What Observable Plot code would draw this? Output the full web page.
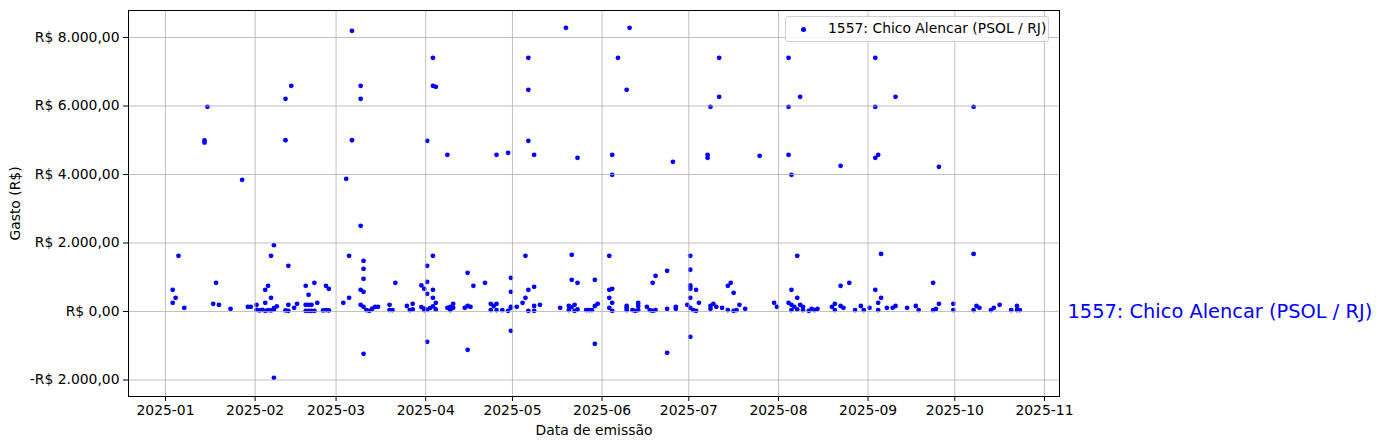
<!DOCTYPE html>
<html>
<head>
<meta charset="utf-8">
<script src="https://cdn.jsdelivr.net/npm/d3@7"></script>
<script src="https://cdn.jsdelivr.net/npm/@observablehq/plot@0.6"></script>
<style>
  html, body { margin: 0; padding: 0; background: #fff; }
  #wrap { position: relative; width: 1383px; height: 448px; font-family: "DejaVu Sans", sans-serif; }
  #legend { position: absolute; left: 785px; top: 16px; width: 264px; height: 26px; box-sizing: border-box;
    border: 1px solid #d0d0d0; border-radius: 3px; background: rgba(255,255,255,0.8);
    font-size: 13.9px; color: #000; }
  #legend .dot { position: absolute; left: 15px; top: 10px; width: 5px; height: 5px; border-radius: 50%; background: blue; }
  #legend .txt { position: absolute; left: 42px; top: 3px; white-space: nowrap; }
</style>
</head>
<body>
<div id="wrap">
  <div id="chart"></div>
  <div id="legend"><div class="dot"></div><div class="txt"></div></div>
</div>
<script>
const seriesName = "1557: Chico Alencar (PSOL / RJ)";
const xLabel = "Data de emissão";
const yLabel = "Gasto (R$)";
const yTicks = [-2000, 0, 2000, 4000, 6000, 8000];

const dates = [
"2025-01-03","2025-01-03","2025-01-04","2025-01-05","2025-01-07","2025-01-14","2025-01-14","2025-01-15","2025-01-17","2025-01-18","2025-01-19","2025-01-23","2025-01-27","2025-01-29","2025-01-30",
"2025-02-01","2025-02-01","2025-02-02","2025-02-03","2025-02-04","2025-02-04","2025-02-04","2025-02-05","2025-02-05","2025-02-06","2025-02-06","2025-02-06","2025-02-07","2025-02-07","2025-02-07","2025-02-07","2025-02-08","2025-02-11","2025-02-11","2025-02-11","2025-02-12","2025-02-12","2025-02-12","2025-02-13","2025-02-14","2025-02-15","2025-02-18","2025-02-18","2025-02-18","2025-02-19","2025-02-19","2025-02-19","2025-02-20","2025-02-20","2025-02-21","2025-02-21","2025-02-22","2025-02-24","2025-02-25","2025-02-25","2025-02-26","2025-02-26",
"2025-03-03","2025-03-04","2025-03-05","2025-03-05","2025-03-06","2025-03-06","2025-03-09","2025-03-09","2025-03-09","2025-03-09","2025-03-09","2025-03-10","2025-03-10","2025-03-10","2025-03-10","2025-03-10","2025-03-10","2025-03-11","2025-03-12","2025-03-13","2025-03-14","2025-03-15","2025-03-19","2025-03-19","2025-03-20","2025-03-21","2025-03-25","2025-03-26","2025-03-27","2025-03-27","2025-03-30","2025-03-30","2025-03-31","2025-03-31","2025-03-31",
"2025-04-01","2025-04-01","2025-04-01","2025-04-01","2025-04-01","2025-04-01","2025-04-02","2025-04-03","2025-04-03","2025-04-03","2025-04-03","2025-04-03","2025-04-03","2025-04-04","2025-04-04","2025-04-04","2025-04-08","2025-04-08","2025-04-09","2025-04-09","2025-04-10","2025-04-10","2025-04-14","2025-04-15","2025-04-15","2025-04-15","2025-04-16","2025-04-17","2025-04-21","2025-04-23","2025-04-23","2025-04-24","2025-04-25","2025-04-25","2025-04-25","2025-04-27","2025-04-29","2025-04-29","2025-04-30","2025-04-30","2025-04-30","2025-04-30","2025-04-30",
"2025-05-02","2025-05-04","2025-05-05","2025-05-05","2025-05-06","2025-05-06","2025-05-06","2025-05-06","2025-05-06","2025-05-08","2025-05-08","2025-05-08","2025-05-08","2025-05-10","2025-05-17","2025-05-19","2025-05-20","2025-05-20","2025-05-21","2025-05-21","2025-05-21","2025-05-22","2025-05-22","2025-05-23","2025-05-23","2025-05-23","2025-05-26","2025-05-27","2025-05-28","2025-05-29","2025-05-29","2025-05-29","2025-05-30",
"2025-06-03","2025-06-03","2025-06-03","2025-06-03","2025-06-04","2025-06-04","2025-06-04","2025-06-04","2025-06-04","2025-06-06","2025-06-09","2025-06-10","2025-06-09","2025-06-09","2025-06-09","2025-06-11","2025-06-12","2025-06-13","2025-06-13","2025-06-13","2025-06-16","2025-06-17","2025-06-18","2025-06-18","2025-06-19","2025-06-19","2025-06-23","2025-06-23","2025-06-23","2025-06-25","2025-06-26","2025-06-26","2025-06-30",
"2025-07-01","2025-07-01","2025-07-01","2025-07-01","2025-07-01","2025-07-01","2025-07-01","2025-07-01","2025-07-02","2025-07-03","2025-07-03","2025-07-04","2025-07-07","2025-07-07","2025-07-08","2025-07-08","2025-07-08","2025-07-09","2025-07-10","2025-07-11","2025-07-11","2025-07-12","2025-07-14","2025-07-14","2025-07-15","2025-07-16","2025-07-16","2025-07-17","2025-07-18","2025-07-20","2025-07-25","2025-07-30","2025-07-31",
"2025-08-04","2025-08-04","2025-08-04","2025-08-04","2025-08-05","2025-08-05","2025-08-05","2025-08-05","2025-08-06","2025-08-07","2025-08-07","2025-08-07","2025-08-08","2025-08-08","2025-08-09","2025-08-09","2025-08-11","2025-08-12","2025-08-13","2025-08-14","2025-08-19","2025-08-20","2025-08-20","2025-08-22","2025-08-22","2025-08-22","2025-08-23","2025-08-25","2025-08-27","2025-08-29","2025-08-30",
"2025-09-01","2025-09-03","2025-09-03","2025-09-03","2025-09-03","2025-09-04","2025-09-04","2025-09-04","2025-09-05","2025-09-05","2025-09-07","2025-09-09","2025-09-10","2025-09-10","2025-09-14","2025-09-17","2025-09-18","2025-09-23","2025-09-23","2025-09-24","2025-09-25","2025-09-25","2025-09-30","2025-09-30",
"2025-10-07","2025-10-07","2025-10-07","2025-10-08","2025-10-09","2025-10-13","2025-10-14","2025-10-16","2025-10-20","2025-10-22","2025-10-22","2025-10-23"
];

const values = [
634,254,400,1626,108,4993,4934,5977,225,838,196,79,3845,137,137,
196,50,30,50,254,634,20,750,40,1626,400,30,1936,-1936,60,100,150,6210,5000,30,1334,196,20,6590,108,225,750,196,20,487,196,20,196,20,838,20,254,30,750,40,662,30,
254,3874,1626,400,8195,5000,6590,6210,2502,634,196,1480,1247,955,575,137,-1236,40,20,80,137,137,196,40,40,838,160,40,225,60,760,130,662,40,80,
1334,516,4984,867,-885,50,100,7407,6590,1626,634,400,150,6560,254,60,4575,108,137,40,225,108,108,1130,-1118,160,137,750,838,225,40,160,225,40,4575,40,4633,20,137,108,984,575,-565,
137,254,400,1626,7407,6473,4984,634,20,4575,721,160,20,196,108,8283,160,40,1655,925,130,196,20,838,4488,60,40,40,40,925,-943,160,225,
1626,634,400,108,662,254,20,4575,3991,7407,6473,8283,160,40,108,40,20,254,160,40,137,40,838,20,1042,40,1188,-1206,79,4371,137,79,196,
1626,1218,760,721,662,400,108,-739,40,634,20,254,4575,4488,5977,160,79,225,137,7407,6268,108,750,40,838,545,20,40,196,79,4546,254,137,
7407,5977,4575,254,3991,634,196,40,137,1626,400,60,6268,196,137,40,20,79,40,79,137,225,40,4254,750,160,108,838,40,160,40,
108,7407,5977,4488,634,4575,254,40,1684,400,108,108,6268,160,108,160,40,838,40,79,225,4225,225,40,
5977,1684,40,160,108,40,108,196,40,160,40,40
];

const data = dates.map((d, i) => ({date: new Date(d + "T12:00:00Z"), value: values[i]}));

const brl = v => (v < 0 ? "-" : "") + "R$ " + d3.format(",.2f")(Math.abs(v)).replace(/,/g, "X").replace(/\./g, ",").replace(/X/g, ".");
const monthTicks = d3.utcMonths(new Date("2025-01-01T00:00:00Z"), new Date("2025-11-02T00:00:00Z"));

const font = "DejaVu Sans, sans-serif";

const chart = Plot.plot({
  width: 1383,
  height: 448,
  marginLeft: 128,
  marginRight: 324,
  marginTop: 10,
  marginBottom: 52,
  style: {fontFamily: font, fontSize: "13.9px", background: "white", color: "black"},
  x: {type: "utc", domain: [new Date("2024-12-19T05:00:00Z"), new Date("2025-11-06T05:00:00Z")]},
  y: {domain: [-2482, 8788]},
  marks: [
    Plot.dot(data, {x: "date", y: "value", r: 2.4, fill: "blue", stroke: "none"}),
    Plot.gridX(monthTicks, {stroke: "#b0b0b0", strokeOpacity: 1, strokeWidth: 0.8}),
    Plot.gridY(yTicks, {stroke: "#b0b0b0", strokeOpacity: 1, strokeWidth: 0.8}),
    Plot.axisX(monthTicks, {tickFormat: d3.utcFormat("%Y-%m"), tickSize: 5, tickPadding: 4, fontSize: 13.9,
      label: xLabel, labelAnchor: "center", labelArrow: "none", labelOffset: 38}),
    Plot.axisY(yTicks, {tickFormat: brl, tickSize: 5, tickPadding: 4, fontSize: 13.9,
      label: yLabel, labelAnchor: "center", labelArrow: "none", labelOffset: 118}),
    Plot.frame({stroke: "black", strokeWidth: 1}),
    Plot.text([0], {y: d => d, frameAnchor: "right", dx: 8, textAnchor: "start", text: () => seriesName,
      fill: "blue", fontSize: 19.4})
  ]
});
document.getElementById("chart").appendChild(chart);
document.querySelector("#legend .txt").textContent = seriesName;
</script>
</body>
</html>
